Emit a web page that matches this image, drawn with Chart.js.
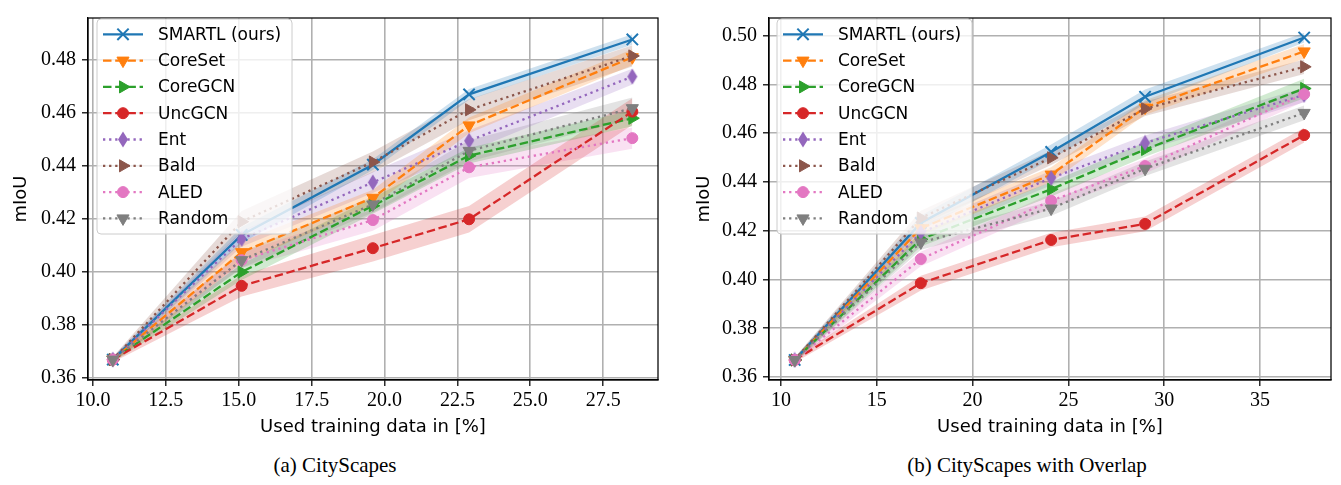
<!DOCTYPE html>
<html>
<head>
<meta charset="utf-8">
<script src="https://cdn.jsdelivr.net/npm/chart.js"></script>
<style>
body { margin: 0; background: #fff; width: 1341px; height: 485px; position: relative; overflow: hidden; }
.wrap { position: absolute; top: 0; height: 440px; }
.cap { position: absolute; top: 453px; font-family: "Liberation Serif", serif; font-size: 21px; white-space: nowrap; transform: translateX(-50%); color: #000; }
</style>
</head>
<body>
<div class="wrap" style="left:0;width:670px"><canvas id="leftChart" width="670" height="440"></canvas></div>
<div class="wrap" style="left:670px;width:671px"><canvas id="rightChart" width="671" height="440"></canvas></div>
<div class="cap" style="left:335px">(a) CityScapes</div>
<div class="cap" style="left:1027px">(b) CityScapes with Overlap</div>
<script>
const methods = ["SMARTL (ours)", "CoreSet", "CoreGCN", "UncGCN", "Ent", "Bald", "ALED", "Random"];
const colors = ["#1f77b4", "#ff7f0e", "#2ca02c", "#d62728", "#9467bd", "#8c564b", "#e377c2", "#7f7f7f"];

// (a) CityScapes
const leftX = [10.68, 15.1, 19.6, 22.9, 28.5];
const leftSmartl  = [0.367, 0.414, 0.4405, 0.467, 0.4877];
const leftCoreSet = [0.367, 0.4075, 0.428, 0.4553, 0.481];
const leftCoreGCN = [0.367, 0.400, 0.425, 0.4439, 0.458];
const leftUncGCN  = [0.367, 0.3948, 0.409, 0.4199, 0.4605];
const leftEnt     = [0.367, 0.4125, 0.4338, 0.4495, 0.4737];
const leftBald    = [0.367, 0.419, 0.4415, 0.4612, 0.4815];
const leftALED    = [0.367, 0.4045, 0.4196, 0.4395, 0.4505];
const leftRandom  = [0.367, 0.4045, 0.4255, 0.4457, 0.4618];
const leftStd = [
    [0.001, 0.003, 0.002, 0.002, 0.002],
    [0.001, 0.004, 0.003, 0.003, 0.003],
    [0.001, 0.003, 0.003, 0.003, 0.003],
    [0.001, 0.004, 0.005, 0.005, 0.005],
    [0.001, 0.003, 0.004, 0.004, 0.003],
    [0.001, 0.004, 0.004, 0.004, 0.004],
    [0.001, 0.003, 0.004, 0.004, 0.004],
    [0.001, 0.003, 0.003, 0.004, 0.004]
];
const leftXTicks = [10, 12.5, 15, 17.5, 20, 22.5, 25, 27.5];
const leftYTicks = [0.36, 0.38, 0.40, 0.42, 0.44, 0.46, 0.48];

// (b) CityScapes with Overlap
const rightX = [10.72, 17.3, 24.1, 29.0, 37.3];
const rightSmartl  = [0.367, 0.4232, 0.4523, 0.4749, 0.4992];
const rightCoreSet = [0.367, 0.421, 0.443, 0.4705, 0.4935];
const rightCoreGCN = [0.367, 0.4165, 0.437, 0.4533, 0.4783];
const rightUncGCN  = [0.367, 0.3985, 0.4162, 0.4228, 0.4592];
const rightEnt     = [0.367, 0.4192, 0.4416, 0.456, 0.4757];
const rightBald    = [0.367, 0.4252, 0.4499, 0.470, 0.4872];
const rightALED    = [0.367, 0.4084, 0.4323, 0.4465, 0.476];
const rightRandom  = [0.367, 0.4152, 0.4291, 0.4454, 0.4683];
const rightStd = [
    [0.001, 0.003, 0.003, 0.003, 0.002],
    [0.001, 0.003, 0.003, 0.003, 0.003],
    [0.001, 0.003, 0.003, 0.003, 0.004],
    [0.001, 0.003, 0.003, 0.003, 0.003],
    [0.001, 0.003, 0.003, 0.003, 0.003],
    [0.001, 0.003, 0.003, 0.003, 0.003],
    [0.001, 0.003, 0.003, 0.003, 0.003],
    [0.001, 0.003, 0.003, 0.003, 0.003]
];
const rightXTicks = [10, 15, 20, 25, 30, 35];
const rightYTicks = [0.36, 0.38, 0.40, 0.42, 0.44, 0.46, 0.48, 0.50];

// thin diamond like matplotlib 'd'
function thinDiamond(color) {
    const c = document.createElement("canvas");
    c.width = 12; c.height = 17;
    const g = c.getContext("2d");
    g.fillStyle = color;
    g.beginPath();
    g.moveTo(6, 0.5); g.lineTo(11, 8.5); g.lineTo(6, 16.5); g.lineTo(1, 8.5);
    g.closePath();
    g.fill();
    return c;
}

const LW = 2.3;
const DASHED = [3.7 * LW, 1.6 * LW];
const DOTTED = [1 * LW, 1.65 * LW];
const styles = [
    { dash: [], point: "crossRot", rot: 0, r: 8 },
    { dash: DASHED, point: "triangle", rot: 180, r: 7 },
    { dash: DASHED, point: "triangle", rot: 90, r: 7 },
    { dash: DASHED, point: "circle", rot: 0, r: 5.5 },
    { dash: DOTTED, point: thinDiamond(colors[4]), rot: 0, r: 8 },
    { dash: DOTTED, point: "triangle", rot: 90, r: 7 },
    { dash: DOTTED, point: "circle", rot: 0, r: 5.5 },
    { dash: DOTTED, point: "triangle", rot: 180, r: 7 }
];

function alpha(hex, a) {
    const n = parseInt(hex.slice(1), 16);
    return `rgba(${n >> 16},${(n >> 8) & 255},${n & 255},${a})`;
}

function buildDatasets(xs, series, std) {
    const ds = [];
    series.forEach((vals, i) => {
        ds.push({
            data: vals.map((v, j) => ({ x: xs[j], y: v - std[i][j] })),
            borderWidth: 0, pointRadius: 0, fill: false, order: 100
        });
        ds.push({
            data: vals.map((v, j) => ({ x: xs[j], y: v + std[i][j] })),
            borderWidth: 0, pointRadius: 0, fill: "-1",
            backgroundColor: alpha(colors[i], 0.22), order: 100
        });
    });
    series.forEach((vals, i) => {
        const s = styles[i];
        ds.push({
            label: methods[i],
            data: vals.map((v, j) => ({ x: xs[j], y: v })),
            borderColor: colors[i],
            backgroundColor: colors[i],
            borderWidth: LW,
            borderDash: s.dash,
            borderCapStyle: "butt",
            pointStyle: s.point,
            pointRotation: s.rot,
            pointRadius: s.r,
            pointBackgroundColor: colors[i],
            pointBorderColor: colors[i],
            pointBorderWidth: s.point === "crossRot" ? 2 : 1,
            fill: false,
            order: 50 - i
        });
    });
    return ds;
}

const framePlugin = {
    id: "frame",
    afterDatasetsDraw(chart) {
        const { ctx, chartArea: a } = chart;
        ctx.save();
        ctx.strokeStyle = "#000";
        ctx.lineWidth = 1.25;
        ctx.strokeRect(a.left, a.top, a.right - a.left, a.bottom - a.top);
        ctx.restore();
    }
};

const legendPlugin = {
    id: "mplLegend",
    afterDatasetsDraw(chart, args, opts) {
        const ctx = chart.ctx;
        const b = opts.box;
        ctx.save();
        ctx.fillStyle = "rgba(255,255,255,0.8)";
        ctx.strokeStyle = "#cccccc";
        ctx.lineWidth = 1;
        ctx.beginPath();
        ctx.roundRect(b.x, b.y, b.w, b.h, 4);
        ctx.fill();
        ctx.stroke();
        methods.forEach((name, i) => {
            const s = styles[i];
            const y = b.y + 15.3 + i * 26.3;
            ctx.strokeStyle = colors[i];
            ctx.fillStyle = colors[i];
            ctx.lineWidth = LW;
            ctx.lineCap = "butt";
            ctx.setLineDash(s.dash);
            ctx.beginPath();
            ctx.moveTo(b.x + 6, y);
            ctx.lineTo(b.x + 46, y);
            ctx.stroke();
            ctx.setLineDash([]);
            ctx.lineWidth = s.point === "crossRot" ? 2 : 1;
            Chart.helpers.drawPoint(ctx, { pointStyle: s.point, rotation: s.rot, radius: s.r, borderWidth: ctx.lineWidth }, b.x + 26, y);
            ctx.fillStyle = "#000";
            ctx.font = "17px 'DejaVu Sans'";
            ctx.textBaseline = "middle";
            ctx.fillText(name, b.x + 61, y + 1);
        });
        ctx.restore();
    }
};

function makeChart(id, xs, series, std, cfg) {
    const tickFont = { family: "'Liberation Serif', serif", size: 20 };
    const titleFont = { family: "'DejaVu Sans', sans-serif", size: 18 };
    const grid = { color: "#b0b0b0", lineWidth: 1.6, tickLength: 6, tickColor: "#000", tickWidth: 1.25 };
    const border = { color: "#000", width: 1.25 };
    return new Chart(document.getElementById(id), {
        type: "line",
        data: { datasets: buildDatasets(xs, series, std) },
        plugins: [framePlugin, legendPlugin],
        options: {
            responsive: false,
            animation: false,
            devicePixelRatio: 1,
            layout: { padding: { top: 9, right: cfg.padRight, left: 0, bottom: 0 } },
            plugins: {
                legend: { display: false },
                tooltip: { enabled: false },
                mplLegend: { box: cfg.legendBox }
            },
            scales: {
                x: {
                    type: "linear",
                    min: cfg.xMin, max: cfg.xMax,
                    afterBuildTicks: sc => { sc.ticks = cfg.xTicks.map(v => ({ value: v })); },
                    afterFit: sc => { sc.height = 60; },
                    ticks: { font: tickFont, color: "#000", padding: 3, maxRotation: 0, autoSkip: false, callback: cfg.xFmt },
                    grid: grid,
                    border: border,
                    title: { display: true, text: "Used training data in [%]", font: titleFont, color: "#000", padding: { top: 0, bottom: 2 } }
                },
                y: {
                    min: cfg.yMin, max: cfg.yMax,
                    afterBuildTicks: sc => { sc.ticks = cfg.yTicks.map(v => ({ value: v })); },
                    afterFit: sc => { sc.width = cfg.yWidth; },
                    ticks: { font: tickFont, color: "#000", padding: 6, autoSkip: false, callback: v => v.toFixed(2) },
                    grid: grid,
                    border: border,
                    title: { display: true, text: "mIoU", font: titleFont, color: "#000", padding: { top: cfg.yTitlePad, bottom: 0 } }
                }
            }
        }
    });
}

makeChart("leftChart", leftX,
    [leftSmartl, leftCoreSet, leftCoreGCN, leftUncGCN, leftEnt, leftBald, leftALED, leftRandom], leftStd, {
    padRight: 12, yWidth: 88, yTitlePad: 11,
    xMin: 9.83, xMax: 29.38, yMin: 0.3593, yMax: 0.4958,
    xTicks: leftXTicks, yTicks: leftYTicks, xFmt: v => v.toFixed(1),
    legendBox: { x: 97, y: 19, w: 195, h: 215 }
});

makeChart("rightChart", rightX,
    [rightSmartl, rightCoreSet, rightCoreGCN, rightUncGCN, rightEnt, rightBald, rightALED, rightRandom], rightStd, {
    padRight: 2, yWidth: 99, yTitlePad: 24,
    xMin: 9.38, xMax: 38.7, yMin: 0.3588, yMax: 0.5072,
    xTicks: rightXTicks, yTicks: rightYTicks, xFmt: v => String(v),
    legendBox: { x: 107, y: 19, w: 195, h: 215 }
});
</script>
</body>
</html>
